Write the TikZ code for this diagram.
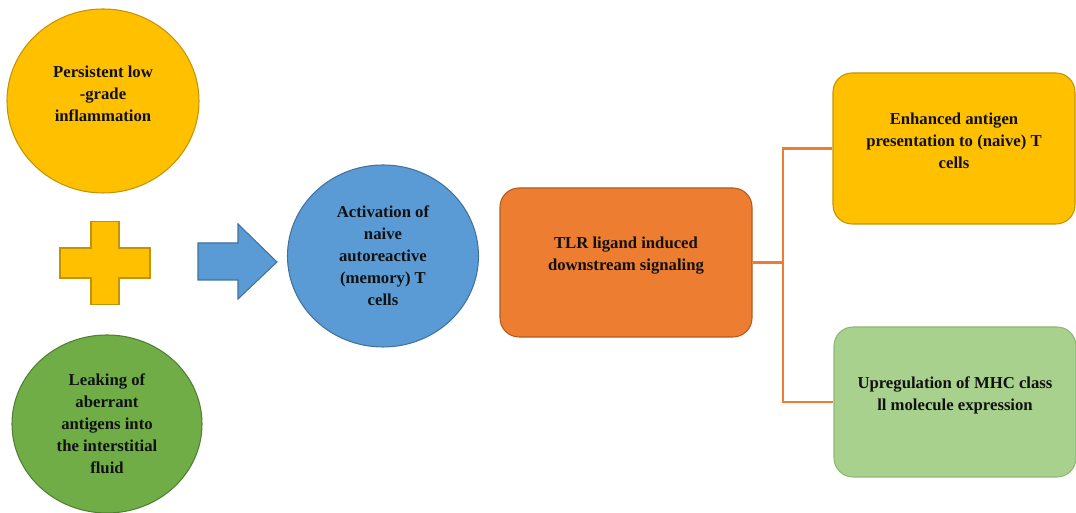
\documentclass[tikz,border=0pt]{standalone}
\usepackage{fontspec}
\setmainfont{Liberation Serif}
\usetikzlibrary{shapes.geometric}
\definecolor{gold}{HTML}{FFC000}
\definecolor{goldline}{HTML}{C49300}
\definecolor{leaf}{HTML}{70AD47}
\definecolor{leafline}{HTML}{507E32}
\definecolor{sky}{HTML}{5B9BD5}
\definecolor{skyline}{HTML}{41719C}
\definecolor{tangerine}{HTML}{ED7D31}
\definecolor{tangerineline}{HTML}{AE5A21}
\definecolor{mint}{HTML}{A9D18E}
\definecolor{mintline}{HTML}{8DB874}
\definecolor{ink}{HTML}{111111}
\tikzset{
  label text/.style={font=\bfseries\fontsize{9.5}{12.5}\selectfont, text=ink, align=center},
  bubble/.style={ellipse, label text, inner sep=0pt, line width=0.6pt},
  card/.style={rectangle, rounded corners=0.38cm, line width=0.6pt},
  link/.style={tangerine, line width=1.2pt}
}
\begin{document}
\begin{tikzpicture}
\useasboundingbox (0,0) rectangle (21.52,10.26);
\coordinate (P1) at (2.06,8.24);
\coordinate (P2) at (2.10,5.00);
\coordinate (P3) at (2.14,1.78);
\coordinate (P4) at (7.66,5.14);
\coordinate (P5) at (12.52,5.01);
\coordinate (P6) at (19.08,7.29);
\coordinate (P7) at (19.10,2.22);
\node[bubble, fill=gold, draw=goldline, minimum width=3.84cm, minimum height=3.68cm]
  (inflam) at (P1) {};
\node[label text] (inflam-txt) at ([yshift=0.14cm]inflam.center) {Persistent low\\-grade\\inflammation};
\node[bubble, fill=leaf, draw=leafline, minimum width=3.80cm, minimum height=3.56cm]
  (leak) at (P3) {Leaking of\\aberrant\\antigens into\\the interstitial\\fluid};
\node[bubble, fill=sky, draw=skyline, minimum width=3.82cm, minimum height=3.64cm]
  (activ) at (P4) {Activation of\\naive\\autoreactive\\(memory) T\\cells};
\node[card, fill=tangerine, draw=tangerineline, minimum width=5.04cm, minimum height=2.98cm]
  (tlr) at (P5) {};
\node[label text] (tlr-txt) at ([yshift=0.13cm]tlr.center) {TLR ligand induced\\downstream signaling};
\node[card, fill=gold, draw=goldline, minimum width=4.84cm, minimum height=3.02cm]
  (enh) at (P6) {};
\node[label text] (enh-txt) at ([yshift=0.15cm]enh.center) {Enhanced antigen\\presentation to (naive) T\\cells};
\node[card, fill=mint, draw=mintline, minimum width=4.84cm, minimum height=3.00cm]
  (mhc) at (P7) {};
\node[label text] (mhc-txt) at ([yshift=0.14cm]mhc.center) {Upregulation of MHC class\\ll molecule expression};
\filldraw[fill=gold, draw=goldline, line width=0.6pt]
  ([shift={(-0.28,0.83)}]P2) -- ([shift={(0.28,0.83)}]P2) -- ([shift={(0.28,0.30)}]P2)
  -- ([shift={(0.90,0.30)}]P2) -- ([shift={(0.90,-0.30)}]P2) -- ([shift={(0.28,-0.30)}]P2)
  -- ([shift={(0.28,-0.83)}]P2) -- ([shift={(-0.28,-0.83)}]P2) -- ([shift={(-0.28,-0.30)}]P2)
  -- ([shift={(-0.90,-0.30)}]P2) -- ([shift={(-0.90,0.30)}]P2) -- ([shift={(-0.28,0.30)}]P2) -- cycle;
\filldraw[fill=sky, draw=skyline, line width=0.6pt]
  (3.96,5.40) -- (4.76,5.40) -- (4.76,5.78) -- (5.54,5.02) -- (4.76,4.28)
  -- (4.76,4.66) -- (3.96,4.66) -- cycle;
\coordinate (fork) at (15.66,5.01);
\draw[link] (tlr.east) -- (fork);
\draw[link] (enh.west) -| (fork) |- (mhc.west);
\end{tikzpicture}
\end{document}
